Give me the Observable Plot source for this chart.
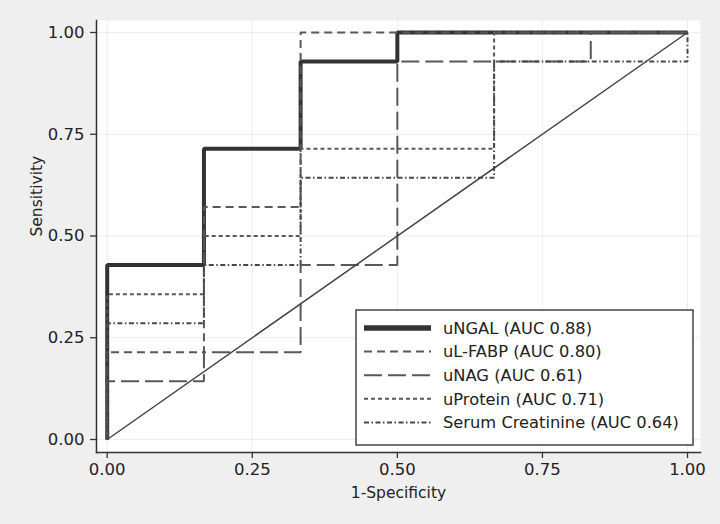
<!DOCTYPE html>
<html>
<head>
<meta charset="utf-8">
<script src="https://cdn.jsdelivr.net/npm/d3@7"></script>
<script src="https://cdn.jsdelivr.net/npm/@observablehq/plot@0.6"></script>
<style>
  html, body { margin: 0; padding: 0; background: #efefef; }
  #chart { width: 720px; height: 524px; }
</style>
</head>
<body>
<div id="chart"></div>
<script>
// ---- Data ----
const xTicks = [0, 0.25, 0.5, 0.75, 1];
const yTicks = [0, 0.25, 0.5, 0.75, 1];
const tickLabels = ["0.00", "0.25", "0.50", "0.75", "1.00"];
const xTitle = "1-Specificity";
const yTitle = "Sensitivity";

const seriesNames = [
  "uNGAL (AUC 0.88)",
  "uL-FABP (AUC 0.80)",
  "uNAG (AUC 0.61)",
  "uProtein (AUC 0.71)",
  "Serum Creatinine (AUC 0.64)"
];

const uNGAL_fpr = [0, 0, 0.1667, 0.1667, 0.3333, 0.3333, 0.5, 0.5, 1];
const uNGAL_tpr = [0, 0.4286, 0.4286, 0.7143, 0.7143, 0.9286, 0.9286, 1, 1];

const uLFABP_fpr = [0, 0, 0.1667, 0.1667, 0.3333, 0.3333, 1];
const uLFABP_tpr = [0, 0.2143, 0.2143, 0.5714, 0.5714, 1, 1];

const uNAG_fpr = [0, 0, 0.1667, 0.1667, 0.3333, 0.3333, 0.5, 0.5, 0.8333, 0.8333, 1];
const uNAG_tpr = [0, 0.1429, 0.1429, 0.2143, 0.2143, 0.4286, 0.4286, 0.9286, 0.9286, 1, 1];

const uProtein_fpr = [0, 0, 0.1667, 0.1667, 0.3333, 0.3333, 0.6667, 0.6667, 1];
const uProtein_tpr = [0, 0.3571, 0.3571, 0.5, 0.5, 0.7143, 0.7143, 1, 1];

const serum_fpr = [0, 0, 0.1667, 0.1667, 0.3333, 0.3333, 0.6667, 0.6667, 1, 1];
const serum_tpr = [0, 0.2857, 0.2857, 0.4286, 0.4286, 0.6429, 0.6429, 0.9286, 0.9286, 1];

const ref_fpr = [0, 1];
const ref_tpr = [0, 1];

// ---- Styles ----
const styles = [
  { stroke: "#333333", width: 4,   dash: null,                legendWidth: 5.5 },
  { stroke: "#585858", width: 2,   dash: "8,5",               legendWidth: 2 },
  { stroke: "#585858", width: 2,   dash: "18,6",              legendWidth: 2 },
  { stroke: "#585858", width: 2,   dash: "4,3",               legendWidth: 2 },
  { stroke: "#484848", width: 2,   dash: "5,2.5,1.5,2.5",     legendWidth: 2 }
];

const toRows = (xs, ys) => xs.map((x, i) => ({ fpr: x, tpr: ys[i] }));
const series = [
  toRows(uNGAL_fpr, uNGAL_tpr),
  toRows(uLFABP_fpr, uLFABP_tpr),
  toRows(uNAG_fpr, uNAG_tpr),
  toRows(uProtein_fpr, uProtein_tpr),
  toRows(serum_fpr, serum_tpr)
];
const refRows = toRows(ref_fpr, ref_tpr);

const font = "'DejaVu Sans', sans-serif";

const lineMarks = series.map((rows, i) => Plot.line(rows, {
  x: "fpr", y: "tpr",
  stroke: styles[i].stroke,
  strokeWidth: styles[i].width,
  strokeDasharray: styles[i].dash || undefined,
  strokeLinecap: "butt",
  strokeLinejoin: "miter",
  curve: "linear"
}));

const svg = Plot.plot({
  width: 720,
  height: 524,
  marginLeft: 96,
  marginRight: 20,
  marginTop: 20,
  marginBottom: 72,
  style: { background: "transparent", fontFamily: font, color: "#222" },
  x: { domain: [0, 1], insetLeft: 10.7, insetRight: 13 },
  y: { domain: [0, 1], insetTop: 12, insetBottom: 13 },
  marks: [
    Plot.frame({ fill: "white", stroke: null }),
    Plot.gridX(xTicks, { stroke: "#000", strokeOpacity: 0.07 }),
    Plot.gridY(yTicks, { stroke: "#000", strokeOpacity: 0.07 }),
    Plot.frame({ anchor: "left", stroke: "#333", strokeWidth: 1.5 }),
    Plot.frame({ anchor: "bottom", stroke: "#333", strokeWidth: 1.5 }),
    Plot.axisX(xTicks, {
      tickFormat: d => tickLabels[xTicks.indexOf(d)],
      tickSize: 6, tickPadding: 5, fontSize: 16.5, label: null,
      stroke: "#333", strokeWidth: 1.3
    }),
    Plot.axisY(yTicks, {
      tickFormat: d => tickLabels[yTicks.indexOf(d)],
      tickSize: 6, tickPadding: 6, fontSize: 16.5, label: null,
      stroke: "#333", strokeWidth: 1.3
    }),
    Plot.text([xTitle], { frameAnchor: "bottom", dy: 45, fontSize: 15.5, fill: "#222" }),
    Plot.text([yTitle], { frameAnchor: "left", dx: -59, rotate: -90, fontSize: 15.5, fill: "#222" }),
    ...lineMarks,
    Plot.line(refRows, { x: "fpr", y: "tpr", stroke: "#444", strokeWidth: 1.5 })
  ]
});

// ---- Legend (inside plot, lower right) ----
const lg = d3.select(svg).append("g")
  .attr("font-family", font).attr("font-size", 16.3).attr("text-anchor", "start");
const box = { x: 356, y: 310, w: 337, h: 135 };
lg.append("rect")
  .attr("x", box.x).attr("y", box.y).attr("width", box.w).attr("height", box.h)
  .attr("fill", "white").attr("stroke", "#444").attr("stroke-width", 1.5);
const rowY0 = 328, rowStep = 23.6;
seriesNames.forEach((name, i) => {
  const y = rowY0 + i * rowStep;
  lg.append("line")
    .attr("x1", 364).attr("x2", 431).attr("y1", y).attr("y2", y)
    .attr("stroke", styles[i].stroke)
    .attr("stroke-width", styles[i].legendWidth)
    .attr("stroke-dasharray", styles[i].dash)
    .attr("stroke-linecap", "butt");
  lg.append("text")
    .attr("x", 443).attr("y", y).attr("dy", "0.36em")
    .attr("text-anchor", "start")
    .attr("fill", "#222")
    .text(name);
});

document.getElementById("chart").appendChild(svg);
</script>
</body>
</html>
